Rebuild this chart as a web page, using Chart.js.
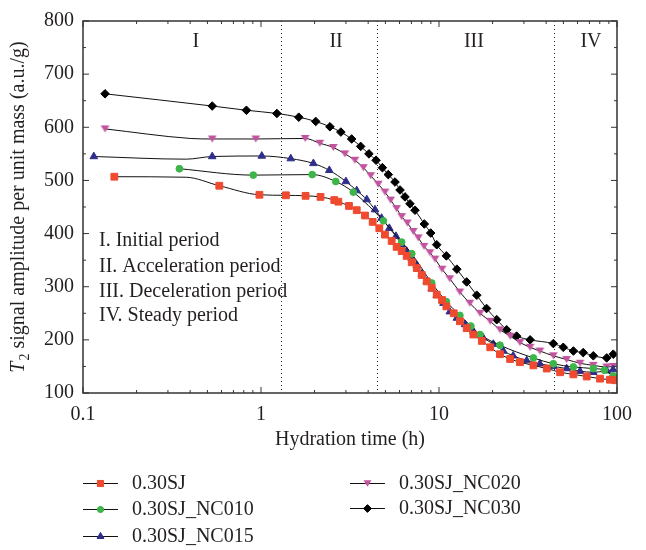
<!DOCTYPE html>
<html><head><meta charset="utf-8">
<script src="https://cdn.jsdelivr.net/npm/chart.js@4.4.0/dist/chart.umd.min.js"></script>
<style>html,body{margin:0;padding:0;background:#fff;}#wrap{position:relative;width:646px;height:550px;}</style>
</head><body><div id="wrap"><canvas id="c" width="646" height="550"></canvas></div>
<script>
// ---------------- data ----------------
const seriesNames = ['0.30SJ', '0.30SJ_NC010', '0.30SJ_NC015', '0.30SJ_NC020', '0.30SJ_NC030'];

const sjTime  = [0.15, 0.38, 0.583, 0.98, 1.38, 1.78, 2.16, 2.58, 2.72, 3.12, 3.45, 3.84, 4.24, 4.62, 4.97, 5.42, 5.78, 6.17, 6.58, 7.03, 7.5, 8.0, 8.53, 9.1, 9.71, 10.4, 11.0, 12.1, 13.1, 14.3, 15.6, 17.4, 19.4, 22.0, 25.1, 28.5, 33.9, 40.3, 47.9, 56.9, 67.6, 80.3, 91.3, 97.7];
const sjValue = [507, 506, 490, 473, 472, 471, 469, 463, 460, 452, 444, 434, 422, 410, 398, 386, 375, 367, 358, 346, 335, 322, 310, 298, 285, 275, 263, 250, 235, 222, 210, 198, 186, 173, 164, 158, 152, 146, 139, 135, 131, 127, 125, 124];

const nc010Time  = [0.348, 0.905, 1.94, 2.63, 3.3, 4.87, 6.17, 7.03, 9.1, 11.0, 13.1, 15.1, 17.0, 22.0, 33.9, 43.9, 56.9, 73.6, 85, 95, 100];
const nc010Value = [522, 510, 511, 498, 478, 424, 384, 362, 307, 272, 246, 226, 210, 190, 166, 155, 149, 146, 143, 132, 128];

const nc015Time  = [0.115, 0.38, 0.532, 1.01, 1.47, 1.97, 2.42, 3.0, 3.45, 3.93, 4.37, 4.76, 5.26, 5.73, 6.17, 6.58, 7.03, 7.5, 8.0, 8.53, 9.1, 9.71, 10.6, 11.5, 12.6, 14.0, 15.6, 17.7, 20.2, 23.0, 26.1, 31.1, 36.9, 43.9, 52.1, 62, 73.6, 87.5, 95];
const nc015Value = [545, 540, 545, 546, 541, 532, 519, 498, 481, 464, 445, 429, 410, 395, 379, 367, 353, 340, 324, 310, 296, 284, 269, 253, 241, 229, 216, 204, 192, 179, 170, 161, 155, 150, 146, 141, 139, 142, 144];

const nc020Time  = [0.133, 0.40, 0.532, 0.935, 1.77, 2.14, 2.55, 2.96, 3.37, 3.76, 4.13, 4.56, 4.97, 5.35, 5.78, 6.17, 6.64, 7.17, 7.65, 8.24, 8.9, 9.5, 10.4, 11.5, 13.1, 14.9, 17.0, 19.4, 22.0, 25.1, 28.5, 32.5, 36.9, 43.9, 52.1, 62.0, 73.6, 87.5, 95.3];
const nc020Value = [597, 579, 578, 578, 579, 570, 562, 550, 538, 524, 509, 493, 478, 463, 447, 432, 420, 404, 392, 376, 364, 352, 333, 315, 290, 269, 250, 235, 219, 207, 195, 186, 179, 170, 163, 156, 152, 149, 150];

const nc030Time  = [0.133, 0.532, 0.828, 1.228, 1.63, 2.03, 2.44, 2.81, 3.23, 3.63, 4.04, 4.43, 4.81, 5.19, 5.66, 6.04, 6.44, 6.87, 7.33, 8.27, 8.98, 9.71, 11.0, 12.6, 14.3, 16.3, 18.5, 21.1, 24.0, 27.3, 32.5, 43.9, 49.9, 56.9, 64.6, 73.6, 87.5, 95.3];
const nc030Value = [663, 640, 632, 626, 619, 611, 601, 591, 578, 564, 550, 538, 524, 511, 497, 482, 469, 456, 444, 418, 401, 379, 358, 333, 309, 284, 259, 238, 219, 207, 200, 193, 186, 179, 176, 170, 166, 173];

const xTickLabels = [0.1, 1, 10, 100];
const yTickLabels = [100, 200, 300, 400, 500, 600, 700, 800];
const periodBounds = [1.3, 4.5, 44];
const periodMarks = ['I', 'II', 'III', 'IV'];
const periodNotes = ['I. Initial period', 'II. Acceleration period', 'III. Deceleration period', 'IV. Steady period'];
const xTitleText = 'Hydration time (h)';
const yTitleParts = ['T', '2', ' signal amplitude per unit mass (a.u./g)'];

// ---------------- styling ----------------
const FONT = '"Liberation Serif", "DejaVu Serif", serif';
const TXT = '#231f20';
const colors = ['#ef4a2f', '#3cb649', '#2f2e8c', '#c2549f', '#000000'];
const shapes = ['rect', 'circle', 'triangle', 'triangleDown', 'rectRot'];
const sizes  = [4.8, 3.4, 4.4, 4.4, 4.3];
const hiddenMarker = [[1], [], [1], [1], []];

const times = [sjTime, nc010Time, nc015Time, nc020Time, nc030Time];
const values = [sjValue, nc010Value, nc015Value, nc020Value, nc030Value];

function pts(t, v) { return t.map((x, i) => ({x: x, y: v[i]})); }

function drawMarker(ctx, shape, x, y, r, color) {
  ctx.save();
  ctx.fillStyle = color; ctx.strokeStyle = color; ctx.lineWidth = 1;
  if (shape === 'triangleDown') {
    const h = r * 1.6;
    ctx.beginPath();
    ctx.moveTo(x - r, y - h / 2);
    ctx.lineTo(x + r, y - h / 2);
    ctx.lineTo(x, y + h / 2);
    ctx.closePath(); ctx.fill();
  } else {
    Chart.helpers.drawPoint(ctx, {pointStyle: shape, radius: r, borderWidth: 1, rotation: 0}, x, y);
    ctx.fill();
  }
  ctx.restore();
}

function triDownCanvas(r, color) {
  const c = document.createElement('canvas');
  const s = Math.ceil(r * 2 + 2);
  c.width = s; c.height = s;
  const g = c.getContext('2d');
  drawMarker(g, 'triangleDown', s / 2, s / 2, r, color);
  return c;
}

const datasets = seriesNames.map((name, i) => ({
  label: name,
  data: pts(times[i], values[i]),
  borderColor: '#111',
  borderWidth: 1,
  backgroundColor: colors[i],
  pointBackgroundColor: colors[i],
  pointBorderColor: colors[i],
  pointBorderWidth: 1,
  pointStyle: shapes[i] === 'triangleDown' ? triDownCanvas(sizes[i], colors[i]) : shapes[i],
  pointRadius: (ctx) => hiddenMarker[i].includes(ctx.dataIndex) ? 0 : sizes[i],
  cubicInterpolationMode: 'monotone',
  fill: false,
  order: i
}));

const decorPlugin = {
  id: 'decor',
  beforeDatasetsDraw(chart) {
    const {ctx, chartArea: a, scales: {x}} = chart;
    ctx.save();
    ctx.strokeStyle = '#222';
    ctx.lineWidth = 1;
    ctx.setLineDash([1, 3]);
    periodBounds.forEach(b => {
      const px = Math.round(x.getPixelForValue(b)) + 0.5;
      ctx.beginPath(); ctx.moveTo(px, a.top); ctx.lineTo(px, a.bottom); ctx.stroke();
    });
    ctx.restore();
  },
  afterDatasetsDraw(chart) {
    const {ctx, chartArea: a, scales: {x, y}} = chart;
    ctx.save();
    ctx.strokeStyle = '#333';
    ctx.lineWidth = 1.5;
    ctx.strokeRect(a.left, a.top, a.right - a.left, a.bottom - a.top);
    ctx.lineWidth = 1;
    ctx.beginPath();
    xTickLabels.forEach((d, k) => {
      const px = x.getPixelForValue(d);
      ctx.moveTo(px, a.bottom); ctx.lineTo(px, a.bottom - 6);
      ctx.moveTo(px, a.top); ctx.lineTo(px, a.top + 6);
      if (k < xTickLabels.length - 1) {
        for (let m = 2; m <= 9; m++) {
          const mx = x.getPixelForValue(d * m);
          ctx.moveTo(mx, a.bottom); ctx.lineTo(mx, a.bottom - 3);
          ctx.moveTo(mx, a.top); ctx.lineTo(mx, a.top + 3);
        }
      }
    });
    yTickLabels.forEach((v, k) => {
      const py = y.getPixelForValue(v);
      ctx.moveTo(a.left, py); ctx.lineTo(a.left + 6, py);
      ctx.moveTo(a.right, py); ctx.lineTo(a.right - 6, py);
      if (k < yTickLabels.length - 1) {
        const my = y.getPixelForValue(v + 50);
        ctx.moveTo(a.left, my); ctx.lineTo(a.left + 3, my);
        ctx.moveTo(a.right, my); ctx.lineTo(a.right - 3, my);
      }
    });
    ctx.stroke();
    ctx.restore();
  },
  afterDraw(chart) {
    const {ctx, chartArea: a, scales: {x, y}} = chart;
    ctx.save();
    ctx.fillStyle = TXT;
    ctx.font = '20px ' + FONT;
    ctx.textAlign = 'center'; ctx.textBaseline = 'middle';
    const romanAt = [0.431, 2.64, 15.7, 71.4];
    periodMarks.forEach((m, i) => ctx.fillText(m, x.getPixelForValue(romanAt[i]), y.getPixelForValue(761)));
    ctx.textAlign = 'left';
    const noteY = [386, 337, 291, 246];
    periodNotes.forEach((t, i) => ctx.fillText(t, x.getPixelForValue(0.123), y.getPixelForValue(noteY[i])));
    ctx.textAlign = 'center';
    ctx.fillText(xTitleText, (a.left + a.right) / 2, 440);
    ctx.translate(17, (a.top + a.bottom) / 2);
    ctx.rotate(-Math.PI / 2);
    const fMain = '20px ' + FONT, fIt = 'italic 20px ' + FONT, fSub = '14px ' + FONT;
    ctx.font = fIt; const w0 = ctx.measureText(yTitleParts[0]).width;
    ctx.font = fSub; const w1 = ctx.measureText(yTitleParts[1]).width;
    ctx.font = fMain; const w2 = ctx.measureText(yTitleParts[2]).width;
    let sx = -(w0 + w1 + w2 + 1) / 2;
    ctx.textAlign = 'left'; ctx.textBaseline = 'alphabetic';
    ctx.font = fIt; ctx.fillText(yTitleParts[0], sx, 7); sx += w0 + 1;
    ctx.font = fSub; ctx.fillText(yTitleParts[1], sx, 12); sx += w1;
    ctx.font = fMain; ctx.fillText(yTitleParts[2], sx, 7);
    ctx.restore();

    ctx.save();
    const legendPos = [[83, 483], [83, 509], [83, 536], [350, 483], [350, 508]];
    ctx.font = '20px ' + FONT;
    ctx.textAlign = 'left'; ctx.textBaseline = 'middle';
    seriesNames.forEach((n, i) => {
      const [lx, ly] = legendPos[i];
      ctx.strokeStyle = '#111'; ctx.lineWidth = 1.2;
      ctx.beginPath(); ctx.moveTo(lx, ly + 0.5); ctx.lineTo(lx + 35, ly + 0.5); ctx.stroke();
      drawMarker(ctx, shapes[i], lx + 17.5, ly + 0.5, sizes[i] * 0.9, colors[i]);
      ctx.fillStyle = TXT;
      ctx.fillText(n, lx + 49, ly + 1);
    });
    ctx.restore();
  }
};

new Chart(document.getElementById('c'), {
  type: 'line',
  data: {datasets},
  options: {
    responsive: false,
    animation: false,
    devicePixelRatio: 1,
    layout: {padding: {left: 0, top: 14, right: 29, bottom: 0}},
    plugins: {legend: {display: false}, tooltip: {enabled: false}},
    scales: {
      x: {
        type: 'logarithmic', min: 0.1, max: 100,
        grid: {display: false, drawTicks: false},
        border: {display: false},
        afterBuildTicks: s => { s.ticks = xTickLabels.map(v => ({value: v})); },
        afterFit: s => { s.height = 157; },
        ticks: {
          autoSkip: false, maxRotation: 0, padding: 10, color: TXT,
          font: {family: FONT, size: 20},
          callback: v => String(v)
        }
      },
      y: {
        type: 'linear', min: 100, max: 800,
        grid: {display: false, drawTicks: false},
        border: {display: false},
        afterBuildTicks: s => { s.ticks = yTickLabels.map(v => ({value: v})); },
        afterFit: s => { s.width = 83; },
        ticks: {padding: 9, color: TXT, font: {family: FONT, size: 20}}
      }
    }
  },
  plugins: [decorPlugin]
});
</script></body></html>
